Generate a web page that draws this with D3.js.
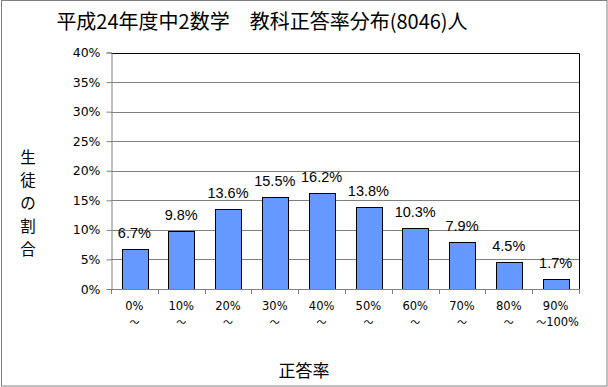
<!DOCTYPE html>
<html>
<head>
<meta charset="utf-8">
<script src="https://cdn.jsdelivr.net/npm/d3@7"></script>
<style>
  body { margin: 0; background: #fff; }
  svg { display: block; font-family: "Noto Sans CJK JP", "DejaVu Sans", sans-serif; }
</style>
</head>
<body>
<svg id="chart"></svg>
<script>
// data
const categories = ["0%", "10%", "20%", "30%", "40%", "50%", "60%", "70%", "80%", "90%"];
const secondLine = ["", "", "", "", "", "", "", "", "", "100%"];
const values = [6.7, 9.8, 13.6, 15.5, 16.2, 13.8, 10.3, 7.9, 4.5, 1.7];
const yTicks = [0, 5, 10, 15, 20, 25, 30, 35, 40];

const w = 608;
const h = 387;
const margin = { top: 52.5, right: 29, bottom: 98, left: 111 };

const svg = d3.select("#chart").attr("width", w).attr("height", h);

// outer frame
svg.append("rect")
  .attr("x", 1.5).attr("y", 0.5)
  .attr("width", w - 2.5).attr("height", h - 1.5)
  .attr("fill", "white").attr("stroke", "#808080");

const xScale = d3.scaleBand()
  .domain(categories)
  .range([margin.left, w - margin.right])
  .paddingInner(0.45)
  .paddingOuter(0.225);

const yScale = d3.scaleLinear()
  .domain([0, 40])
  .range([h - margin.bottom, margin.top]);

// gridlines
svg.append("g")
  .selectAll("line")
  .data(yTicks.slice(1, -1))
  .enter()
  .append("line")
  .attr("x1", margin.left).attr("x2", w - margin.right)
  .attr("y1", (d) => Math.round(yScale(d)) + 0.5)
  .attr("y2", (d) => Math.round(yScale(d)) + 0.5)
  .attr("stroke", "#808080");

// top and right border of plot
svg.append("path")
  .attr("d", `M${margin.left},${Math.round(yScale(40)) + 0.5}H${w - margin.right + 0.5}V${Math.round(yScale(0))}`)
  .attr("fill", "none")
  .attr("stroke", "black");

// bars
svg.selectAll("rect.bar")
  .data(values)
  .enter()
  .append("rect")
  .attr("class", "bar")
  .attr("x", (d, i) => Math.round(xScale(categories[i])) + 0.5)
  .attr("y", (d) => Math.round(yScale(d)) + 0.5)
  .attr("width", Math.round(xScale.bandwidth()))
  .attr("height", (d) => Math.round(yScale(0)) - Math.round(yScale(d)))
  .attr("fill", "#6699ff")
  .attr("stroke", "black")
  .attr("stroke-width", 1);

// data labels
svg.selectAll("text.lbl")
  .data(values)
  .enter()
  .append("text")
  .attr("class", "lbl")
  .attr("x", (d, i) => xScale(categories[i]) + xScale.bandwidth() / 2)
  .attr("y", (d) => yScale(d) - 11)
  .attr("text-anchor", "middle")
  .attr("font-size", 14.5)
  .attr("font-family", "'Liberation Sans', sans-serif")
  .text((d) => d.toFixed(1) + "%");

// y axis
const yAxis = d3.axisLeft(yScale)
  .tickValues(yTicks)
  .tickSize(5)
  .tickPadding(6)
  .tickFormat((d) => d + "%");

const gy = svg.append("g")
  .attr("transform", `translate(${margin.left + 0.5},0)`)
  .call(yAxis);
gy.select(".domain").attr("stroke", "#808080");
gy.selectAll(".tick line").attr("stroke", "#808080");
gy.selectAll(".tick text")
  .attr("font-size", 12.5)
  .attr("font-family", "'DejaVu Sans', sans-serif")
  .attr("fill", "black");

// x axis
const xBounds = d3.range(categories.length + 1).map(
  (i) => margin.left + (i * (w - margin.right - margin.left)) / categories.length
);
svg.append("line")
  .attr("x1", margin.left).attr("x2", w - margin.right)
  .attr("y1", Math.round(yScale(0)) + 0.5).attr("y2", Math.round(yScale(0)) + 0.5)
  .attr("stroke", "#808080");
svg.append("g")
  .selectAll("line")
  .data(xBounds)
  .enter()
  .append("line")
  .attr("x1", (d) => Math.round(d) + 0.5).attr("x2", (d) => Math.round(d) + 0.5)
  .attr("y1", Math.round(yScale(0))).attr("y2", Math.round(yScale(0)) + 5)
  .attr("stroke", "#808080");

const xl = svg.append("g")
  .selectAll("text")
  .data(categories)
  .enter()
  .append("text")
  .attr("x", (d) => xScale(d) + xScale.bandwidth() / 2)
  .attr("y", 310)
  .attr("text-anchor", "middle")
  .attr("font-size", 11.5)
  .attr("font-family", "'DejaVu Sans', sans-serif");
xl.append("tspan")
  .attr("x", (d) => xScale(d) + xScale.bandwidth() / 2)
  .text((d) => d);
xl.append("tspan")
  .attr("x", (d, i) => xScale(d) + xScale.bandwidth() / 2 + (i === 9 ? 2 : 0))
  .attr("dy", 16)
  .attr("font-size", 10)
  .attr("font-family", "'Noto Sans CJK JP', sans-serif")
  .text("～");
xl.append("tspan")
  .text((d, i) => secondLine[i]);

// title
svg.append("text")
  .attr("x", 262)
  .attr("y", 29)
  .attr("text-anchor", "middle")
  .attr("font-size", 20)
  .text("平成24年度中2数学　教科正答率分布(8046)人");

// y title (vertical, one glyph per line)
svg.append("g")
  .selectAll("text")
  .data("生徒の割合".split(""))
  .enter()
  .append("text")
  .attr("x", 28)
  .attr("y", (d, i) => 163 + i * 23)
  .attr("font-size", 15.5)
  .attr("text-anchor", "middle")
  .text((d) => d);

// x title
svg.append("text")
  .attr("x", 304)
  .attr("y", 377)
  .attr("text-anchor", "middle")
  .attr("font-size", 17)
  .text("正答率");
</script>
</body>
</html>
